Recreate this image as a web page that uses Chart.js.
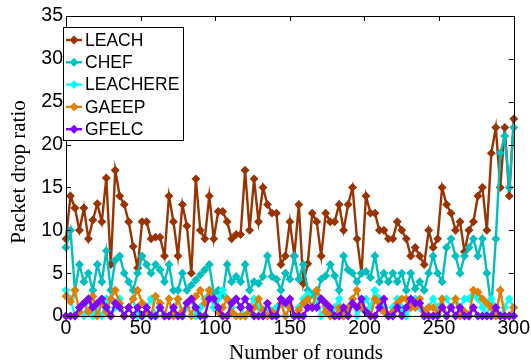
<!DOCTYPE html>
<html>
<head>
<meta charset="utf-8">
<script src="https://cdn.jsdelivr.net/npm/chart.js@4.4.1/dist/chart.umd.min.js"></script>
<style>
  html, body { margin: 0; padding: 0; background: #ffffff; }
  #wrap { width: 531px; height: 363px; }
</style>
</head>
<body>
<div id="wrap"><canvas id="c" width="531" height="363"></canvas></div>
<script>
// Simulation rounds, sampled every 3 rounds
const rounds = [];
for (let r = 0; r <= 300; r += 3) rounds.push(r);

const leach = [
  9, 14, 12.6, 10, 12.6, 9, 11.2, 13.1, 11, 16.1,
  6, 17, 14, 13, 11, 8.1, 5.6, 11, 11, 9,
  9.2, 9.2, 7, 14, 11, 7, 13, 10.5, 5, 16,
  10, 9, 14, 9, 12.2, 12.2, 11, 9, 9.5, 9.5,
  17, 10, 16, 11, 15, 13, 12, 12, 6, 7,
  11, 7, 13, 3.8, 6.1, 12, 11, 7, 12, 11,
  11, 13, 10, 13, 15, 9, 5, 14, 12, 12,
  10, 10, 9, 9, 11, 10, 9, 7, 8, 7,
  6, 10, 8, 9, 15, 13, 12, 10, 11, 7.5,
  10, 11, 14, 15, 10, 19, 22, 15, 22, 14,
  23
];
const chef = [
  8, 10, 3, 6, 4, 5, 3, 6, 4, 7.6,
  3, 6.5, 7, 5, 4, 3, 5, 7, 6, 5,
  6, 5.4, 4, 6, 3, 3, 5, 3, 3.6, 4.2,
  4.8, 5.4, 6, 2.6, 3, 2.5, 6, 4, 4.6, 4,
  6, 3, 4, 3.8, 4.6, 7, 4.6, 4.3, 3, 5,
  4.3, 7, 4.3, 6, 3, 2.5, 2.5, 4.3, 4.7, 6,
  4.7, 3, 7, 5.4, 5, 4, 5, 5.2, 4.5, 7,
  4, 5, 4, 5, 4, 5, 3, 5, 3.2, 4,
  3, 5, 7, 5, 4, 8, 9, 7, 5, 7,
  8, 9, 7, 9, 5, 1, 9, 19, 21, 15,
  22
];
const leachere = [
  3, 2, 0, 1, 0, 2, 0, 1, 0, 2,
  0, 1, 2, 0, 1, 2, 0, 0, 1, 2,
  0, 1, 0, 0, 1, 2, 0, 1, 2, 0,
  1, 2, 3, 1, 2, 3, 2, 1, 2, 1,
  0, 1, 2, 1, 0, 1, 0, 1, 2, 0,
  1, 0, 1, 2, 2.5, 1, 2, 0, 1, 0,
  1, 2, 0, 1, 2, 0, 1, 2, 1, 3,
  2, 1, 0, 1, 2, 1, 0, 1, 2, 1,
  0, 1, 2, 1, 2, 2, 1, 2, 1, 2,
  2, 2.5, 2, 1, 0, 2, 1, 0, 1, 2,
  1
];
const gaeep = [
  2.3, 1.7, 3, 0.5, 1.5, 0.5, 2.3, 0, 1.5, 0.5,
  2, 3, 1.5, 0, 1, 2, 3, 1.5, 0.5, 0,
  2.3, 1.5, 0, 2, 0, 2, 0.5, 1.5, 0, 2.3,
  3, 1.5, 3, 2, 0.5, 1, 2, 0.5, 0, 0,
  0, 0.5, 1, 2, 0.7, 0, 0.5, 0, 1.5, 0,
  1, 0, 0.7, 1.5, 2, 1, 3, 2, 0.5, 0,
  0, 1, 0, 1, 2, 3, 1, 0.5, 0, 2,
  1.5, 0.5, 0, 0.5, 1.5, 2, 2, 1, 1, 2,
  0.5, 1, 1, 0.3, 2, 0, 1, 2, 0, 0.5,
  0, 3, 2.8, 2, 1.5, 1, 0, 3, 0, 0,
  1
];
const gfelc = [
  0, 0, 0, 1, 1.5, 2, 1, 1.5, 2, 1,
  0, 1.5, 1, 0, 1, 0, 1, 0, 1, 0,
  0, 1, 0, 0, 1, 0, 0, 1.5, 2, 1,
  0, 0, 2, 2, 1, 0, 0, 1.5, 2, 1,
  2, 1, 0, 0, 0, 1.5, 0, 0, 2, 1.5,
  2, 0, 0, 0, 1, 1, 1, 2, 1.5, 1,
  0, 0, 1, 0, 1.5, 1, 2, 0.5, 0, 0,
  1, 2, 0, 0, 1, 0, 1, 2, 1.5, 1.5,
  0, 0, 0, 0, 1, 0, 1, 0, 1, 0,
  0, 1, 0, 0, 0, 0, 1, 0, 0, 0,
  0
];

const seriesNames = ['LEACH', 'CHEF', 'LEACHERE', 'GAEEP', 'GFELC'];
const seriesValues = [leach, chef, leachere, gaeep, gfelc];
const seriesColors = ['#993300', '#00BFBF', '#00FFFF', '#E08000', '#8000FF'];

const xTickValues = [0, 50, 100, 150, 200, 250, 300];
const yTickValues = [0, 5, 10, 15, 20, 25, 30, 35];
const xTitle = 'Number of rounds';
const yTitle = 'Packet drop ratio';

const SANS = '"Liberation Sans", Arial, sans-serif';
const SERIF = '"Liberation Serif", "Times New Roman", serif';

const datasets = seriesNames.map((name, i) => ({
  label: name,
  data: rounds.map((r, k) => ({ x: r, y: seriesValues[i][k] })),
  borderColor: seriesColors[i],
  backgroundColor: seriesColors[i],
  borderWidth: 2.4,
  pointStyle: 'rectRot',
  pointRadius: 3.6,
  pointBorderWidth: 1.2,
  pointBackgroundColor: seriesColors[i],
  pointBorderColor: seriesColors[i],
  tension: 0,
  clip: false,
  order: seriesNames.length - i
}));

// Box frame, inward tick marks, in-plot legend and axis titles
const decorations = {
  id: 'decorations',
  afterDraw(chart) {
    const { ctx, chartArea: a, scales } = chart;
    const xs = scales.x, ys = scales.y;
    ctx.save();
    ctx.strokeStyle = '#000';
    ctx.lineWidth = 1;
    ctx.strokeRect(Math.round(a.left) + 0.5, Math.round(a.top) + 0.5,
                   Math.round(a.right - a.left), Math.round(a.bottom - a.top));
    const tl = 5;
    ctx.beginPath();
    xTickValues.forEach(v => {
      const px = Math.round(xs.getPixelForValue(v)) + 0.5;
      ctx.moveTo(px, a.bottom); ctx.lineTo(px, a.bottom - tl);
      ctx.moveTo(px, a.top); ctx.lineTo(px, a.top + tl);
    });
    yTickValues.forEach(v => {
      const py = Math.round(ys.getPixelForValue(v)) + 0.5;
      ctx.moveTo(a.left, py); ctx.lineTo(a.left + tl, py);
      ctx.moveTo(a.right, py); ctx.lineTo(a.right - tl, py);
    });
    ctx.stroke();

    // legend
    const lx = 63, ly = 27, lw = 120, lh = 113;
    ctx.fillStyle = '#fff';
    ctx.fillRect(lx, ly, lw, lh);
    ctx.strokeRect(lx + 0.5, ly + 0.5, lw, lh);
    ctx.font = '17.5px ' + SANS;
    ctx.textBaseline = 'middle';
    ctx.textAlign = 'left';
    chart.data.datasets.forEach((ds, i) => {
      const cy = 40 + i * 22.3;
      ctx.strokeStyle = ds.borderColor;
      ctx.lineWidth = 2.4;
      ctx.beginPath();
      ctx.moveTo(66, cy); ctx.lineTo(82, cy);
      ctx.stroke();
      ctx.fillStyle = ds.borderColor;
      ctx.lineWidth = 1.2;
      Chart.helpers.drawPoint(ctx, { pointStyle: 'rectRot', radius: 3.6, rotation: 0, borderWidth: 1.2 }, 74, cy);
      ctx.fillStyle = '#000';
      ctx.fillText(ds.label, 85, cy + 1);
    });

    // axis titles
    ctx.fillStyle = '#000';
    ctx.font = '21px ' + SERIF;
    ctx.textAlign = 'center';
    ctx.textBaseline = 'alphabetic';
    ctx.fillText(xTitle, 306, 359);
    ctx.translate(25, 172);
    ctx.rotate(-Math.PI / 2);
    ctx.fillText(yTitle, 0, 0);
    ctx.restore();
  }
};

new Chart(document.getElementById('c'), {
  type: 'line',
  data: { datasets },
  options: {
    responsive: false,
    devicePixelRatio: 1,
    animation: false,
    layout: { padding: { left: 0, right: 16, top: 16, bottom: 0 } },
    plugins: { legend: { display: false }, tooltip: { enabled: false } },
    scales: {
      x: {
        type: 'linear', min: 0, max: 300,
        afterFit(s) { s.height = 47; },
        afterBuildTicks(s) { s.ticks = xTickValues.map(v => ({ value: v })); },
        grid: { display: false, drawTicks: false },
        border: { display: false },
        ticks: { padding: 1, color: '#000', font: { family: SANS, size: 19.5 }, maxRotation: 0 }
      },
      y: {
        type: 'linear', min: 0, max: 35,
        afterFit(s) { s.width = 66; },
        afterBuildTicks(s) { s.ticks = yTickValues.map(v => ({ value: v })); },
        grid: { display: false, drawTicks: false },
        border: { display: false },
        ticks: { padding: 3, color: '#000', font: { family: SANS, size: 19.5 } }
      }
    }
  },
  plugins: [decorations]
});
</script>
</body>
</html>
